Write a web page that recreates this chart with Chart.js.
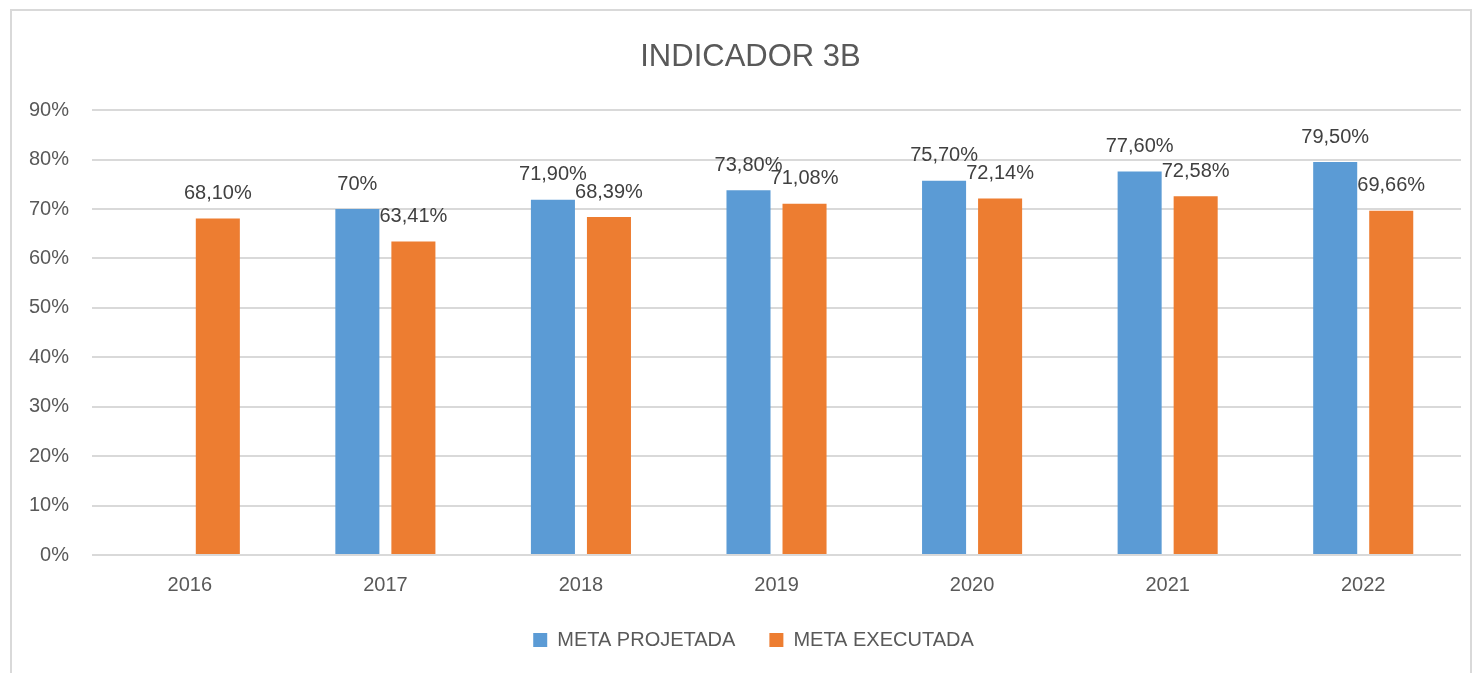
<!DOCTYPE html>
<html>
<head>
<meta charset="utf-8">
<script src="https://cdn.jsdelivr.net/npm/chart.js@4/dist/chart.umd.min.js"></script>
<style>
    body { margin: 0; background: #fff; }
    #frame { position: absolute; left: 10px; top: 9px; width: 1458px; height: 690px; border: 2px solid #d9d9d9; }
    #myChart { position: absolute; left: 0; top: 0; }
</style>
</head>
<body>
<div id="frame"></div>
<canvas id="myChart" width="1472" height="673"></canvas>
<script>
    // Chart data
    const years = ['2016', '2017', '2018', '2019', '2020', '2021', '2022']
    const metaProjetada = [null, 70, 71.9, 73.8, 75.7, 77.6, 79.5]
    const metaExecutada = [68.1, 63.41, 68.39, 71.08, 72.14, 72.58, 69.66]
    const yTicks = [0, 10, 20, 30, 40, 50, 60, 70, 80, 90]

    const TEXT_COLOR = '#595959'
    const FONT = '"Liberation Sans", Arial, sans-serif'

    function formatPct(v) {
        if (Number.isInteger(v)) return v + '%'
        return v.toFixed(2).replace('.', ',') + '%'
    }

    // Value labels drawn above each bar
    const barLabels = {
        id: 'barLabels',
        afterDatasetsDraw(chart) {
            const ctx = chart.ctx
            ctx.save()
            ctx.font = '20px ' + FONT
            ctx.fillStyle = '#404040'
            ctx.textAlign = 'center'
            ctx.textBaseline = 'middle'
            chart.data.datasets.forEach((ds, i) => {
                chart.getDatasetMeta(i).data.forEach((bar, j) => {
                    const v = ds.data[j]
                    if (v === null) return
                    ctx.fillText(formatPct(v), bar.x, bar.y - 25)
                })
            })
            ctx.restore()
        }
    }

    // Excel centres title and legend a bit right of the canvas middle
    const shiftBlocks = {
        id: 'shiftBlocks',
        afterLayout(chart) {
            if (chart.titleBlock) {
                chart.titleBlock.left += 17
                chart.titleBlock.right += 17
            }
            if (chart.legend) {
                chart.legend.left += 20
                chart.legend.right += 20
            }
        }
    }

    Chart.defaults.font.family = FONT
    Chart.defaults.color = TEXT_COLOR

    new Chart(document.getElementById('myChart'), {
        type: 'bar',
        data: {
            labels: years,
            datasets: [{
                label: 'META PROJETADA',
                data: metaProjetada,
                backgroundColor: '#5b9bd5',
                categoryPercentage: 0.573,
                barPercentage: 0.786
            }, {
                label: 'META EXECUTADA',
                data: metaExecutada,
                backgroundColor: '#ed7d31',
                categoryPercentage: 0.573,
                barPercentage: 0.786
            }]
        },
        options: {
            responsive: false,
            animation: false,
            devicePixelRatio: 1,
            layout: { padding: { left: 6, right: 11, top: 0, bottom: 13 } },
            plugins: {
                title: {
                    display: true,
                    text: 'INDICADOR 3B',
                    color: TEXT_COLOR,
                    font: { size: 31, weight: 'normal' },
                    padding: { top: 39, bottom: 34 }
                },
                legend: {
                    position: 'bottom',
                    labels: {
                        boxWidth: 14,
                        boxHeight: 14,
                        padding: 34,
                        color: TEXT_COLOR,
                        font: { size: 20 }
                    }
                },
                tooltip: { enabled: false }
            },
            scales: {
                x: {
                    grid: { display: false, drawTicks: false },
                    border: { display: false },
                    ticks: { padding: 18, font: { size: 20 }, color: TEXT_COLOR },
                    afterFit(scale) {
                        scale.height = scale.height - 19
                    }
                },
                y: {
                    min: 0,
                    max: 90,
                    afterBuildTicks(scale) {
                        scale.ticks = yTicks.map(v => ({ value: v }))
                    },
                    grid: { color: '#d9d9d9', lineWidth: 2, drawTicks: false },
                    border: { display: false },
                    ticks: {
                        padding: 23,
                        font: { size: 20 },
                        color: TEXT_COLOR,
                        callback: v => v + '%'
                    }
                }
            }
        },
        plugins: [barLabels, shiftBlocks]
    })
</script>
</body>
</html>
